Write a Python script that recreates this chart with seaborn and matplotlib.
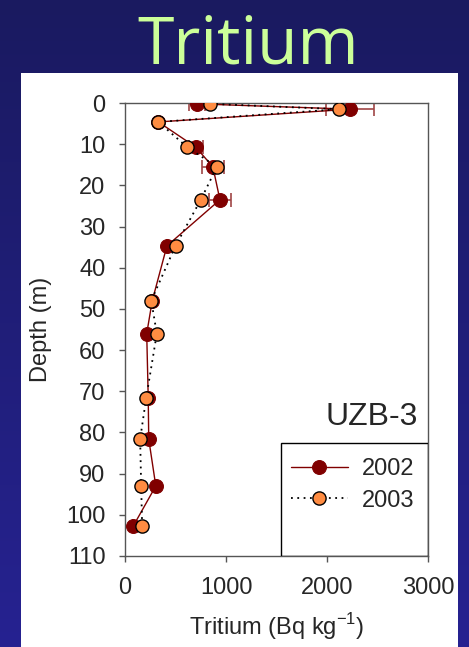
import numpy as np
import matplotlib
matplotlib.use("Agg")
import matplotlib.pyplot as plt
import seaborn as sns
from matplotlib.patches import Rectangle

# depth profile values
depth_2002 = [0.2, 1.5, 4.6, 10.7, 15.5, 23.5, 34.7, 48.0, 56.0, 71.6, 81.6, 93.0, 102.8]
tritium_2002 = [710, 2230, 330, 700, 870, 940, 415, 270, 215, 230, 235, 305, 80]
err_2002 = [80, 240, 0, 70, 110, 110, 0, 0, 0, 0, 0, 0, 0]

depth_2003 = [0.2, 1.5, 4.6, 10.7, 15.5, 23.5, 34.7, 48.0, 56.0, 71.6, 81.6, 93.0, 102.8]
tritium_2003 = [840, 2120, 330, 615, 910, 750, 500, 260, 315, 210, 150, 160, 170]

xticks = [0, 1000, 2000, 3000]
yticks = list(range(0, 111, 10))

sns.set_style("ticks")
plt.rcParams['font.family'] = ['Liberation Sans', 'DejaVu Sans']

fig = plt.figure(figsize=(4.69, 6.47), dpi=100)

# slide background: navy gradient + white panel
bg = fig.add_axes([0, 0, 1, 1], zorder=-10)
top = np.array([26, 26, 96]) / 255
bot = np.array([38, 34, 145]) / 255
t = np.linspace(0, 1, 256)[:, None]
grad = (top[None, :] * (1 - t) + bot[None, :] * t)[:, None, :]
bg.imshow(grad, aspect='auto', extent=[0, 1, 0, 1], origin='upper')
bg.add_patch(Rectangle((21 / 469, 0), (458 - 21) / 469, 1 - 73 / 647,
                       facecolor='white', edgecolor='none'))
bg.set_xlim(0, 1)
bg.set_ylim(0, 1)
bg.axis('off')

fig.text(0.53, 1 - 63 / 647, "Tritium", color='#ccff99', fontsize=47.5,
         ha='center', va='baseline', family=['Open Sans', 'DejaVu Sans'])

ax = fig.add_axes([125 / 469, 1 - 556 / 647, (428 - 125) / 469, (556 - 103) / 647])
ax.set_facecolor('white')

ax.errorbar(tritium_2002, depth_2002, xerr=err_2002, fmt='none',
            ecolor='#a04545', elinewidth=1.2, capsize=5, capthick=1.2, zorder=2)
sns.lineplot(x=tritium_2002, y=depth_2002, sort=False, estimator=None, ax=ax,
             color='#800000', linewidth=1.0, marker='o', markersize=10,
             markeredgecolor='#800000', label='2002', zorder=3)
sns.lineplot(x=tritium_2003, y=depth_2003, sort=False, estimator=None, ax=ax,
             color='black', linewidth=1.3, linestyle=(0, (1, 2.5)), marker='o',
             markersize=9.5, markerfacecolor='#ff8c42', markeredgecolor='black',
             markeredgewidth=1.0, label='2003', zorder=4)

ax.set_xlim(0, 3000)
ax.set_ylim(110, 0)
ax.set_xticks(xticks)
ax.set_yticks(yticks)
ax.tick_params(labelsize=17, length=4, width=1, color='#555555')
ax.tick_params(axis='x', pad=11)
ax.tick_params(axis='y', pad=10)
for s in ax.spines.values():
    s.set_color('#555555')
    s.set_linewidth(1)

ax.set_xlabel("Tritium (Bq kg$^{\\mathregular{-1}}$)", fontsize=17, labelpad=9)
ax.set_ylabel("Depth (m)", fontsize=17, labelpad=10)

ax.text(0.965, (556 - 425) / 453, "UZB-3", transform=ax.transAxes, fontsize=23,
        ha='right', va='baseline')

ax.add_patch(Rectangle((0.515, 0), 0.485, 0.249, transform=ax.transAxes,
                       facecolor='none', edgecolor='black', linewidth=1, zorder=5))
ax.legend(loc='upper left', bbox_to_anchor=(0.47, 0.268), frameon=False,
          fontsize=17, handlelength=2.4, labelspacing=0.4, borderpad=0.5,
          handletextpad=0.6)

fig.savefig("out.png", dpi=100)
